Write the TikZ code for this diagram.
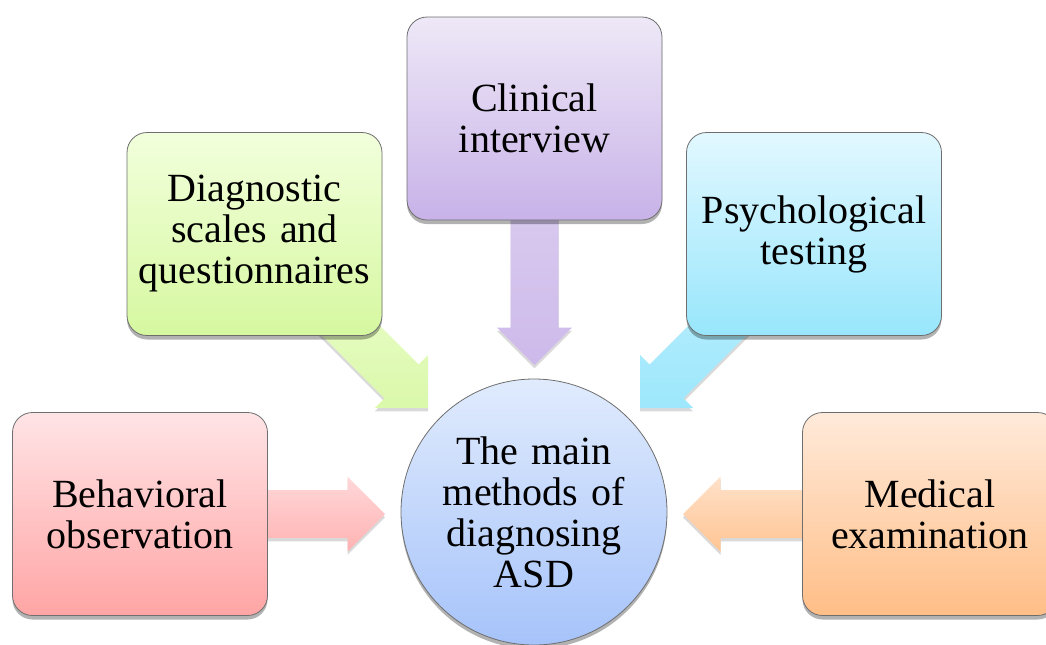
\documentclass[tikz,border=0pt]{standalone}
\usepackage{fontspec}
\setmainfont{Liberation Serif}
\usetikzlibrary{calc,shadows,backgrounds}
\definecolor{pinkT}{RGB}{255,228,230}\definecolor{pinkB}{RGB}{255,165,165}
\definecolor{greenT}{RGB}{242,255,220}\definecolor{greenB}{RGB}{214,248,160}
\definecolor{purpT}{RGB}{238,232,247}\definecolor{purpB}{RGB}{200,178,232}
\definecolor{cyanT}{RGB}{226,248,255}\definecolor{cyanB}{RGB}{152,230,252}
\definecolor{oranT}{RGB}{255,234,218}\definecolor{oranB}{RGB}{255,190,135}
\definecolor{blueT}{RGB}{224,235,253}\definecolor{blueB}{RGB}{166,195,250}
\definecolor{edgeC}{RGB}{110,110,110}
\tikzset{
  mbox/.style={draw=edgeC, line width=0.6pt, rounded corners=15pt,
    minimum width=191.25pt, minimum height=152.25pt, inner sep=0pt,
    text width=185pt, align=center,
    font=\fontsize{30}{30.75}\selectfont,
    drop shadow={shadow xshift=0pt, shadow yshift=-3pt, opacity=0.3, fill=black}},
  hub/.style={circle, draw=edgeC, line width=0.6pt, minimum size=199.5pt,
    inner sep=0pt, text width=150pt, align=center,
    font=\fontsize{30}{30.75}\selectfont,
    top color=blueT, bottom color=blueB,
    drop shadow={shadow xshift=0pt, shadow yshift=-3pt, opacity=0.3, fill=black}},
  barrow/.style={drop shadow={shadow xshift=0pt, shadow yshift=-2.5pt, opacity=0.15, fill=black}}
}
\newcommand\blockarrow[3]{%
  \coordinate (ba-h) at ($(#2)!28.125pt!(#1)$);
  \path[barrow,#3] ($(#1)!18pt!90:(#2)$) -- ($(ba-h)!18pt!90:(#2)$)
    -- ($(ba-h)!28.125pt!90:(#2)$) -- (#2)
    -- ($(ba-h)!28.125pt!-90:(#2)$) -- ($(ba-h)!18pt!-90:(#2)$)
    -- ($(#1)!18pt!-90:(#2)$) -- cycle;}
\begin{document}
\begin{tikzpicture}[x=0.75pt,y=-0.75pt]
\useasboundingbox (0,0) rectangle (1046,644);
\node[mbox, top color=pinkT, bottom color=pinkB] (beh) at (140,514) {Behavioral\\observation};
\node[mbox, top color=greenT, bottom color=greenB] (diag) at (254.5,234) {Diagnostic\\scales and\\questionnaires};
\node[mbox, top color=purpT, bottom color=purpB] (clin) at (534.5,118.5) {Clinical\\interview};
\node[mbox, top color=cyanT, bottom color=cyanB] (psy) at (814,234) {Psychological\\testing};
\node[mbox, top color=oranT, bottom color=oranB] (med) at (930,514) {Medical\\examination};
\node[hub] (asd) at (534,512) {The main\\methods of\\diagnosing\\ASD};
\coordinate (tB) at (385,514);
\coordinate (tD) at (428,408);
\coordinate (tC) at (534.5,365);
\coordinate (tP) at (640,408);
\coordinate (tM) at (683,514);
\begin{pgfonlayer}{background}
\blockarrow{beh}{tB}{top color=pinkT!80!pinkB, bottom color=pinkB!85!white}
\blockarrow{diag}{tD}{top color=greenT, bottom color=greenB!90!white}
\blockarrow{clin}{tC}{top color=purpT!60!purpB, bottom color=purpB!90!white}
\blockarrow{psy}{tP}{top color=cyanT!60!cyanB, bottom color=cyanB!95!white}
\blockarrow{med}{tM}{top color=oranT!80!oranB, bottom color=oranB!90!white}
\end{pgfonlayer}
\end{tikzpicture}
\end{document}
